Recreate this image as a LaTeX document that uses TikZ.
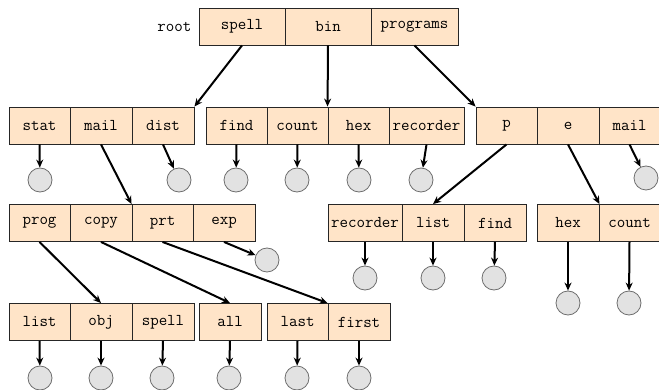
\documentclass[tikz,border=0pt]{standalone}
\usetikzlibrary{arrows.meta}
\definecolor{cellfill}{RGB}{255,228,200}
\definecolor{leaffill}{RGB}{226,226,226}
\definecolor{leafdraw}{RGB}{110,110,110}
\begin{document}
\begin{tikzpicture}[x=1pt,y=-1pt,
  cell/.style={draw=black!85, line width=0.9pt, fill=cellfill, rectangle, inner sep=0pt,
    minimum height=37pt, font=\fontsize{16.5}{18}\selectfont\ttfamily},
  leaf/.style={circle, draw=leafdraw, fill=leaffill, line width=0.8pt, minimum size=24pt, inner sep=0pt},
  arr/.style={-{Stealth[length=8pt,width=7pt]}, line width=2pt, black}]
\useasboundingbox (0,0) rectangle (659,390);
% top row
\node[font=\fontsize{16.5}{18}\selectfont\ttfamily, anchor=east] (rootlbl) at (195,26.5) {root};
\node[cell, minimum width=86pt] (spellA) at (242,26.5) {spell};
\node[cell, minimum width=86pt] (bin) at (328,26.5) {bin};
\node[cell, minimum width=87pt] (programs) at (414.5,26.5) {programs};
% row 2
\node[cell, minimum width=61pt] (stat) at (39.5,125.5) {stat};
\node[cell, minimum width=62pt] (mailA) at (101,125.5) {mail};
\node[cell, minimum width=62pt] (dist) at (163,125.5) {dist};
\node[cell, minimum width=61pt] (findA) at (236.5,125.5) {find};
\node[cell, minimum width=61pt] (countA) at (297.5,125.5) {count};
\node[cell, minimum width=61pt] (hexA) at (358.5,125.5) {hex};
\node[cell, minimum width=75pt] (recA) at (426.5,125.5) {recorder};
\node[cell, minimum width=61pt] (p) at (506.5,125.5) {p};
\node[cell, minimum width=62pt] (e) at (568,125.5) {e};
\node[cell, minimum width=61pt] (mailB) at (629.5,125.5) {mail};
% row 3
\node[cell, minimum width=61pt] (prog) at (39.5,223) {prog};
\node[cell, minimum width=62pt] (copy) at (101,223) {copy};
\node[cell, minimum width=61pt] (prt) at (162.5,223) {prt};
\node[cell, minimum width=62pt] (exp) at (224,223) {exp};
\node[cell, minimum width=74pt] (recB) at (365,223) {recorder};
\node[cell, minimum width=62pt] (listB) at (433,223) {list};
\node[cell, minimum width=62pt] (findB) at (495,223) {find};
\node[cell, minimum width=62pt] (hexB) at (568,223) {hex};
\node[cell, minimum width=61pt] (countB) at (629.5,223) {count};
% row 4
\node[cell, minimum width=61pt] (listC) at (39.5,322) {list};
\node[cell, minimum width=62pt] (obj) at (101,322) {obj};
\node[cell, minimum width=62pt] (spellC) at (163,322) {spell};
\node[cell, minimum width=62pt] (all) at (230,322) {all};
\node[cell, minimum width=61pt] (last) at (297.5,322) {last};
\node[cell, minimum width=62pt] (first) at (359,322) {first};
% leaves
\node[leaf] (l1) at (40,180) {};
\node[leaf] (l2) at (179,180) {};
\node[leaf] (l3) at (236,180) {};
\node[leaf] (l4) at (297,180) {};
\node[leaf] (l5) at (359,180) {};
\node[leaf] (l6) at (421,180) {};
\node[leaf] (l7) at (646,178) {};
\node[leaf] (l8) at (267,260) {};
\node[leaf] (l9) at (365,278) {};
\node[leaf] (l10) at (433,278) {};
\node[leaf] (l11) at (494,278) {};
\node[leaf] (l12) at (568,303) {};
\node[leaf] (l13) at (629,303) {};
\node[leaf] (l14) at (40,378) {};
\node[leaf] (l15) at (101,378) {};
\node[leaf] (l16) at (162,378) {};
\node[leaf] (l17) at (229,378) {};
\node[leaf] (l18) at (297,378) {};
\node[leaf] (l19) at (359,378) {};
% tree links
\draw[arr] (spellA.south) -- (dist.north east);
\draw[arr] (bin.south) -- (hexA.north west);
\draw[arr] (programs.south) -- (p.north west);
\draw[arr] (mailA.south) -- (prt.north west);
\draw[arr] (p.south) -- (listB.north);
\draw[arr] (e.south) -- (hexB.north east);
\draw[arr] (prog.south) -- (obj.north);
\draw[arr] (copy.south) -- (all.north);
\draw[arr] (prt.south) -- (first.north west);
% leaf links
\draw[arr] (stat.south) -- (l1);
\draw[arr] (dist.south) -- (l2);
\draw[arr] (findA.south) -- (l3);
\draw[arr] (countA.south) -- (l4);
\draw[arr] (hexA.south) -- (l5);
\draw[arr] (recA.south) -- (l6);
\draw[arr] (mailB.south) -- (l7);
\draw[arr] (exp.south) -- (l8);
\draw[arr] (recB.south) -- (l9);
\draw[arr] (listB.south) -- (l10);
\draw[arr] (findB.south) -- (l11);
\draw[arr] (hexB.south) -- (l12);
\draw[arr] (countB.south) -- (l13);
\draw[arr] (listC.south) -- (l14);
\draw[arr] (obj.south) -- (l15);
\draw[arr] (spellC.south) -- (l16);
\draw[arr] (all.south) -- (l17);
\draw[arr] (last.south) -- (l18);
\draw[arr] (first.south) -- (l19);
\end{tikzpicture}
\end{document}
